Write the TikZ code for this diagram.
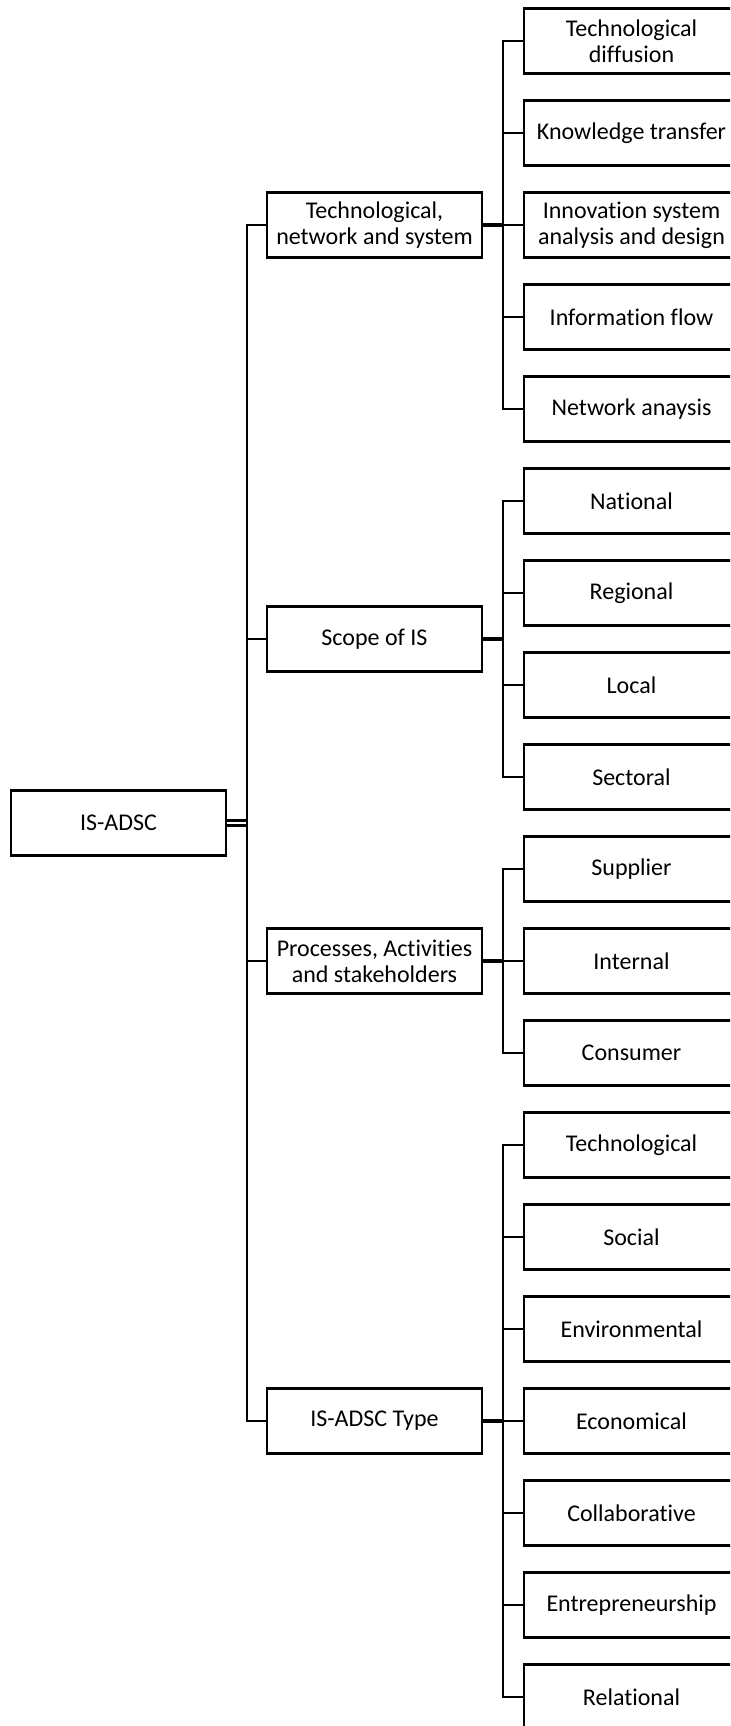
\documentclass[tikz,border=0pt]{standalone}
\usepackage{fontspec}
\setmainfont{Carlito}[Ligatures={NoCommon,NoContextual,NoRare}]

\begin{document}
\begin{tikzpicture}[x=0.5pt, y=-0.5pt,
					box/.style={draw, line width=1.4pt, minimum width=107.5pt, minimum height=32.5pt,
						align=center, inner sep=2pt, font=\fontsize{12}{13}\selectfont},
					link/.style={line width=1.2pt},
					stub/.style={line width=2.2pt},
					dbl/.style={double, line width=1.3pt, double distance=1.1pt},
					elbow/.style={to path={|- (\tikztotarget)}}]

	\useasboundingbox (0,0) rectangle (730,1726);
	\clip (0,0) rectangle (730,1726);

	\node[box] (isadsc) at (118.5,823)  {IS-ADSC};

	\node[box] (tns)   at (374.5,225)  {Technological,\\network and system};
	\node[box] (scope) at (374.5,639)  {Scope of IS};
	\node[box] (pas)   at (374.5,961)  {Processes, Act\kern0pt ivit\kern0pt ies\\and stakeholders};
	\node[box] (type)  at (374.5,1421) {IS-ADSC Type};

	\node[box] (td)   at (631.5,41)   {Technological\\diffusion};
	\node[box] (kt)   at (631.5,133)  {Knowledge transfer};
	\node[box] (isad) at (631.5,225)  {Innovation system\\analysis and design};
	\node[box] (inf)  at (631.5,317)  {Informat\kern0pt ion flow};
	\node[box] (na)   at (631.5,409)  {Network anaysis};

	\node[box] (nat) at (631.5,501)  {Nat\kern0pt ional};
	\node[box] (reg) at (631.5,593)  {Regional};
	\node[box] (loc) at (631.5,685)  {Local};
	\node[box] (sec) at (631.5,777)  {Sectoral};

	\node[box] (sup) at (631.5,869)  {Supplier};
	\node[box] (int) at (631.5,961)  {Internal};
	\node[box] (con) at (631.5,1053) {Consumer};

	\node[box] (tec) at (631.5,1145) {Technological};
	\node[box] (soc) at (631.5,1237) {Social};
	\node[box] (env) at (631.5,1329) {Environmental};
	\node[box] (eco) at (631.5,1421) {Economical};
	\node[box] (col) at (631.5,1513) {Collaborative};
	\node[box] (ent) at (631.5,1605) {Entrepreneurship};
	\node[box] (rel) at (631.5,1697) {Relational};

	\coordinate (rootj)  at (247,823);
	\coordinate (tnsj)   at (503,225);
	\coordinate (scopej) at (503,639);
	\coordinate (pasj)   at (503,961);
	\coordinate (typej)  at (503,1421);

	\draw[dbl] (isadsc.east) -- (rootj);
	\draw[link] (rootj) edge[elbow] (tns.west)
				(rootj) edge[elbow] (scope.west)
				(rootj) edge[elbow] (pas.west)
				(rootj) edge[elbow] (type.west);

	\draw[stub] (tns.east) -- (tnsj);
	\draw[stub] (scope.east) -- (scopej);
	\draw[stub] (pas.east) -- (pasj);
	\draw[stub] (type.east) -- (typej);

	\draw[link] (tnsj) edge[elbow] (td.west)
				(tnsj) edge[elbow] (kt.west)
				(tnsj) edge[elbow] (isad.west)
				(tnsj) edge[elbow] (inf.west)
				(tnsj) edge[elbow] (na.west)
				(scopej) edge[elbow] (nat.west)
				(scopej) edge[elbow] (reg.west)
				(scopej) edge[elbow] (loc.west)
				(scopej) edge[elbow] (sec.west)
				(pasj) edge[elbow] (sup.west)
				(pasj) edge[elbow] (int.west)
				(pasj) edge[elbow] (con.west)
				(typej) edge[elbow] (tec.west)
				(typej) edge[elbow] (soc.west)
				(typej) edge[elbow] (env.west)
				(typej) edge[elbow] (eco.west)
				(typej) edge[elbow] (col.west)
				(typej) edge[elbow] (ent.west)
				(typej) edge[elbow] (rel.west)
	;
\end{tikzpicture}
\end{document}
